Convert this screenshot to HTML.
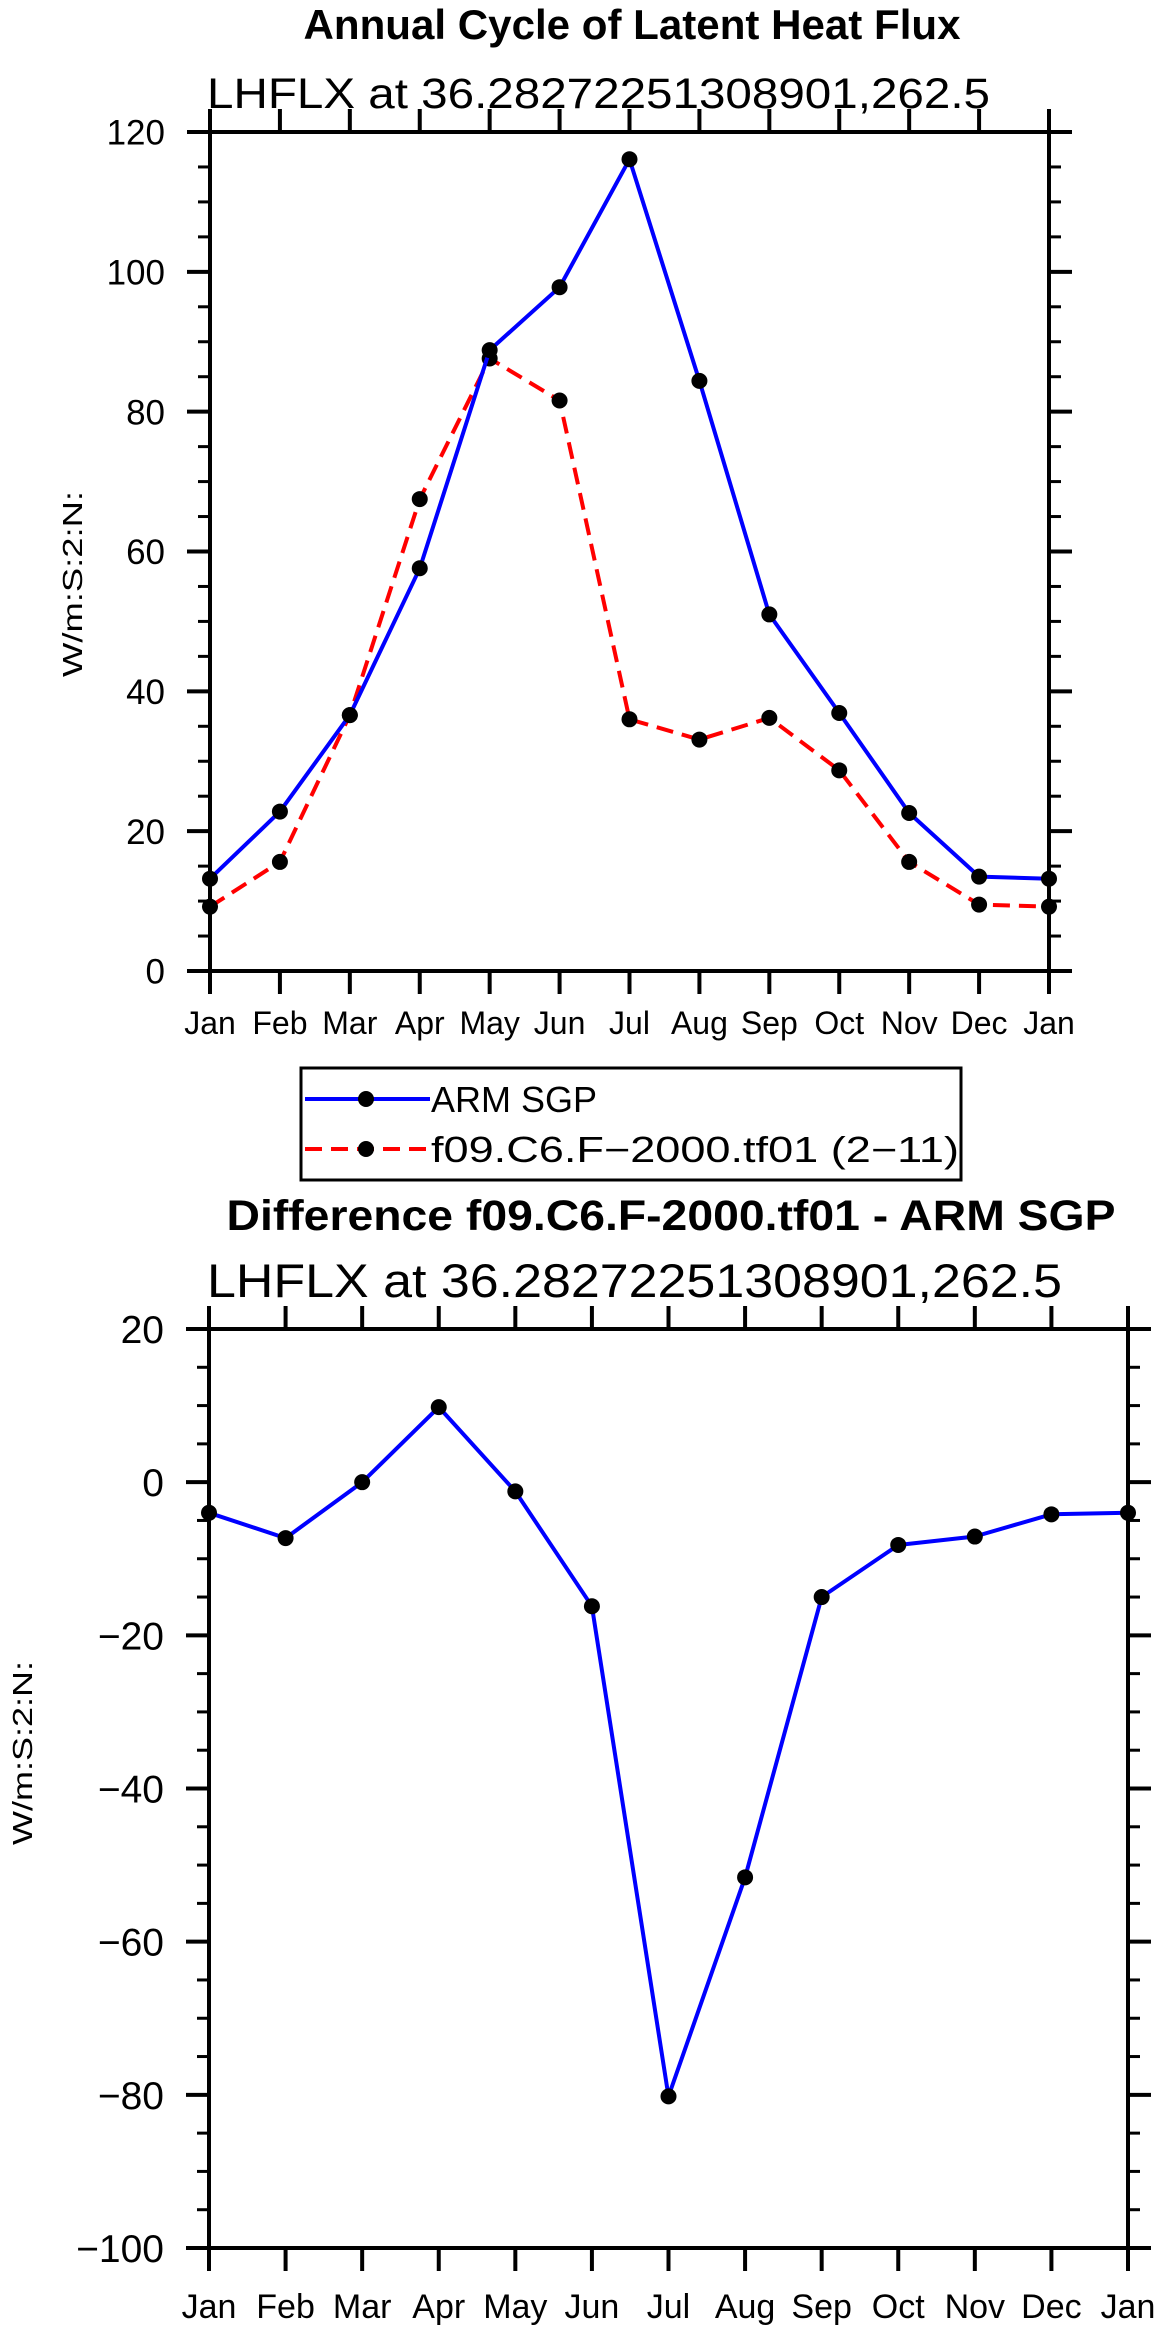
<!DOCTYPE html>
<html><head><meta charset="utf-8"><style>
html,body{margin:0;padding:0;background:#fff;}
svg{display:block;}
text{font-family:"Liberation Sans",sans-serif;fill:#000;}
</style></head><body>
<svg id="chart" width="1161" height="2331" viewBox="0 0 1161 2331" xmlns="http://www.w3.org/2000/svg">
<rect x="0" y="0" width="1161" height="2331" fill="#fff"/>
<text x="632" y="39" font-size="42" font-weight="bold" text-anchor="middle" textLength="657" lengthAdjust="spacingAndGlyphs">Annual Cycle of Latent Heat Flux</text>
<text x="207" y="108" font-size="43" textLength="783" lengthAdjust="spacingAndGlyphs">LHFLX at 36.28272251308901,262.5</text>
<text transform="translate(82,584) rotate(-90)" font-size="28" text-anchor="middle" textLength="186" lengthAdjust="spacingAndGlyphs">W/m:S:2:N:</text>
<g id="p1"></g>

<g>
<rect x="301" y="1068" width="660" height="112" fill="#fff" stroke="#000" stroke-width="3"/>
<line x1="305" y1="1099" x2="430" y2="1099" stroke="#0000ff" stroke-width="4"/>
<circle cx="366" cy="1099" r="8" fill="#000"/>
<text x="431" y="1112" font-size="36">ARM SGP</text>
<line x1="305" y1="1149" x2="430" y2="1149" stroke="#ff0000" stroke-width="4" stroke-dasharray="17,9"/>
<circle cx="366" cy="1149" r="8" fill="#000"/>
<text x="431" y="1162" font-size="36" textLength="528" lengthAdjust="spacingAndGlyphs">f09.C6.F−2000.tf01 (2−11)</text>
</g>

<text x="671" y="1230" font-size="43" font-weight="bold" text-anchor="middle" textLength="889" lengthAdjust="spacingAndGlyphs">Difference f09.C6.F-2000.tf01 - ARM SGP</text>
<text x="207" y="1297" font-size="47" textLength="855" lengthAdjust="spacingAndGlyphs">LHFLX at 36.28272251308901,262.5</text>
<text transform="translate(32,1753) rotate(-90)" font-size="28" text-anchor="middle" textLength="184" lengthAdjust="spacingAndGlyphs">W/m:S:2:N:</text>
<g id="p2"></g>
</svg>
<script>
const months = ["Jan","Feb","Mar","Apr","May","Jun","Jul","Aug","Sep","Oct","Nov","Dec","Jan"];
const armValues = [13.2,22.8,36.6,57.6,88.8,97.8,116.1,84.4,51.0,36.9,22.6,13.5,13.2];
const modelValues = [9.2,15.6,36.6,67.5,87.6,81.6,36.0,33.1,36.2,28.7,15.6,9.5,9.2];
const diffValues = [-4.0,-7.3,0.0,9.8,-1.2,-16.2,-80.2,-51.6,-15.0,-8.2,-7.1,-4.2,-4.0];
const topYTicks = [0,20,40,60,80,100,120];
const bottomYTicks = [-100,-80,-60,-40,-20,0,20];

const NS = "http://www.w3.org/2000/svg";
function mk(parent, tag, attrs){
  const e = document.createElementNS(NS, tag);
  for (const k in attrs) e.setAttribute(k, attrs[k]);
  parent.appendChild(e);
  return e;
}
function drawPlot(g, cfg){
  const {x0,x1,y0,y1,ymin,ymax,yTicks,series,yFont,xFont,xLabelY} = cfg;
  const xs = i => x0 + (x1-x0)*i/(months.length-1);
  const ys = v => y1 - (y1-y0)*(v-ymin)/(ymax-ymin);
  // minor y ticks
  for (let v=ymin; v<=ymax; v+=5){
    if (yTicks.indexOf(v) >= 0) continue;
    const t1 = mk(g,'line',{x1:x0-12,y1:ys(v),x2:x0,y2:ys(v),stroke:'#000','stroke-width':3});
    
    
    const t2 = mk(g,'line',{x1:x1,y1:ys(v),x2:x1+12,y2:ys(v),stroke:'#000','stroke-width':3});
    
    
  }
  yTicks.forEach(v=>{
    const t1 = mk(g,'line',{x1:x0-23,y1:ys(v),x2:x0,y2:ys(v),stroke:'#000','stroke-width':4});
    
    
    const t2 = mk(g,'line',{x1:x1,y1:ys(v),x2:x1+23,y2:ys(v),stroke:'#000','stroke-width':4});
    
    
    const lb = mk(g,'text',{x:x0-45,y:ys(v)+yFont*0.36,'font-size':yFont,'text-anchor':'end'});
    lb.textContent = String(v).replace('-','\u2212');
    
    
  });
  months.forEach((m,i)=>{
    const t1 = mk(g,'line',{x1:xs(i),y1:y1,x2:xs(i),y2:y1+23,stroke:'#000','stroke-width':4});
    
    
    const t2 = mk(g,'line',{x1:xs(i),y1:y0-23,x2:xs(i),y2:y0,stroke:'#000','stroke-width':4});
    
    
    const lb = mk(g,'text',{x:xs(i),y:xLabelY,'font-size':xFont,'text-anchor':'middle'});
    lb.textContent = m;
    
    
  });
  const frame = mk(g,'rect',{x:x0,y:y0,width:x1-x0,height:y1-y0,fill:'none',stroke:'#000','stroke-width':4});
  
  
  series.forEach(s=>{
    const pts = s.values.map((v,i)=>xs(i).toFixed(1)+','+ys(v).toFixed(1)).join(' ');
    const pl = mk(g,'polyline',{points:pts,fill:'none',stroke:s.color,'stroke-width':4,'stroke-linejoin':'round'});
    if (s.dash) pl.setAttribute('stroke-dasharray', s.dash);
    
    
    s.values.forEach((v,i)=>{
      const c = mk(g,'circle',{cx:xs(i),cy:ys(v),r:8,fill:'#000'});
      
      
    });
  });
}
drawPlot(document.getElementById('p1'),{
  x0:210,x1:1049,y0:132,y1:971,ymin:0,ymax:120,yTicks:topYTicks,yFont:35,xFont:32,xLabelY:1034,
  series:[{name:'model',values:modelValues,color:'#ff0000',dash:'17,9'},{name:'arm',values:armValues,color:'#0000ff'}]
});
drawPlot(document.getElementById('p2'),{
  x0:209,x1:1128,y0:1329,y1:2248,ymin:-100,ymax:20,yTicks:bottomYTicks,yFont:39,xFont:34,xLabelY:2318,
  series:[{name:'difference',values:diffValues,color:'#0000ff'}]
});
</script>
</body></html>
